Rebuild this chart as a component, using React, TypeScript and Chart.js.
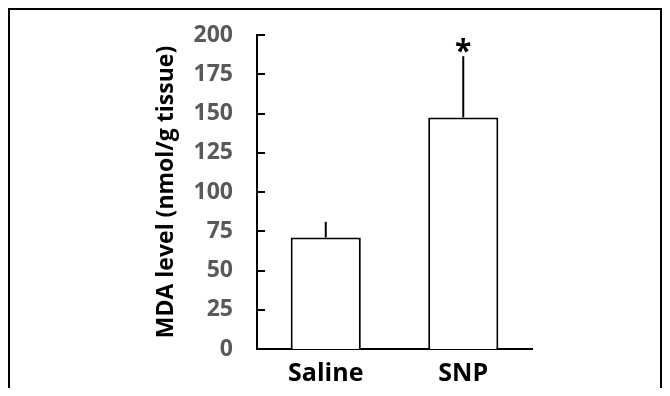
import React, { useEffect, useRef } from "react";
import { Chart, registerables } from "chart.js";

Chart.register(...registerables);

const categories = ["Saline", "SNP"];
const mdaValues = [71, 147.5];
const mdaErrors = [10, 39];
const significance = ["", "*"];
const yTicks = [0, 25, 50, 75, 100, 125, 150, 175, 200];
const yTitle = "MDA level (nmol/g tissue)";

const FONT = "'Open Sans', 'DejaVu Sans', sans-serif";

const errorBarPlugin = {
  id: "errorBarsAndMarks",
  afterDraw(chart: any) {
    const ctx = chart.ctx;
    const meta = chart.getDatasetMeta(0);
    const y = chart.scales.y;
    const area = chart.chartArea;
    ctx.save();
    ctx.strokeStyle = "#000";
    ctx.lineWidth = 2;
    meta.data.forEach((bar: any, i: number) => {
      const x = bar.x;
      const yBase = y.getPixelForValue(mdaValues[i]);
      const yTop = y.getPixelForValue(mdaValues[i] + mdaErrors[i]);
      ctx.beginPath();
      ctx.moveTo(x, yBase);
      ctx.lineTo(x, yTop);
      ctx.stroke();
      if (significance[i]) {
        ctx.fillStyle = "#000";
        ctx.font = `bold 30px ${FONT}`;
        ctx.textAlign = "center";
        ctx.textBaseline = "alphabetic";
        ctx.fillText(significance[i], x, yTop + 5);
      }
    });
    yTicks.forEach((v) => {
      const py = Math.round(y.getPixelForValue(v));
      ctx.beginPath();
      ctx.moveTo(area.left, py);
      ctx.lineTo(area.left + 8, py);
      ctx.stroke();
    });
    ctx.restore();
  },
};

export default function App() {
  const ref = useRef<HTMLCanvasElement>(null);

  useEffect(() => {
    if (!ref.current) return;
    const chart = new Chart(ref.current, {
      type: "bar",
      data: {
        labels: categories,
        datasets: [
          {
            data: mdaValues,
            backgroundColor: "#ffffff",
            borderColor: "#000000",
            borderWidth: 2,
            barPercentage: 1,
            categoryPercentage: 0.51,
          },
        ],
      },
      options: {
        responsive: false,
        animation: false,
        layout: { padding: { left: 143, right: 128, top: 25, bottom: 0 } },
        plugins: { legend: { display: false }, tooltip: { enabled: false } },
        scales: {
          x: {
            grid: { display: false, drawTicks: false },
            border: { display: true, color: "#000", width: 2 },
            ticks: {
              color: "#000",
              padding: 10,
              font: { family: FONT, weight: "bold", size: 25 },
            },
            afterFit: (s: any) => {
              s.height = 39;
            },
          },
          y: {
            min: 0,
            max: 200,
            grid: { display: false, drawTicks: false },
            border: { display: true, color: "#000", width: 2 },
            afterBuildTicks: (s: any) => {
              s.ticks = yTicks.map((v) => ({ value: v }));
            },
            ticks: {
              color: "#595959",
              padding: 24,
              font: { family: FONT, weight: "bold", size: 23 },
            },
            title: {
              display: true,
              text: yTitle,
              color: "#000",
              padding: 0,
              font: { family: FONT, weight: "bold", size: 23 },
            },
            afterFit: (s: any) => {
              s.width = 104;
              s.paddingTop = 0;
              s.paddingBottom = 0;
            },
          },
        },
      },
      plugins: [errorBarPlugin],
    });
    return () => chart.destroy();
  }, []);

  return (
    <div
      style={{
        borderTop: "2px solid #000",
        borderLeft: "2px solid #000",
        borderRight: "2px solid #000",
        height: 380,
        boxSizing: "border-box",
        background: "#fff",
      }}
    >
      <canvas ref={ref} width={650} height={378} style={{ display: "block" }} />
    </div>
  );
}
